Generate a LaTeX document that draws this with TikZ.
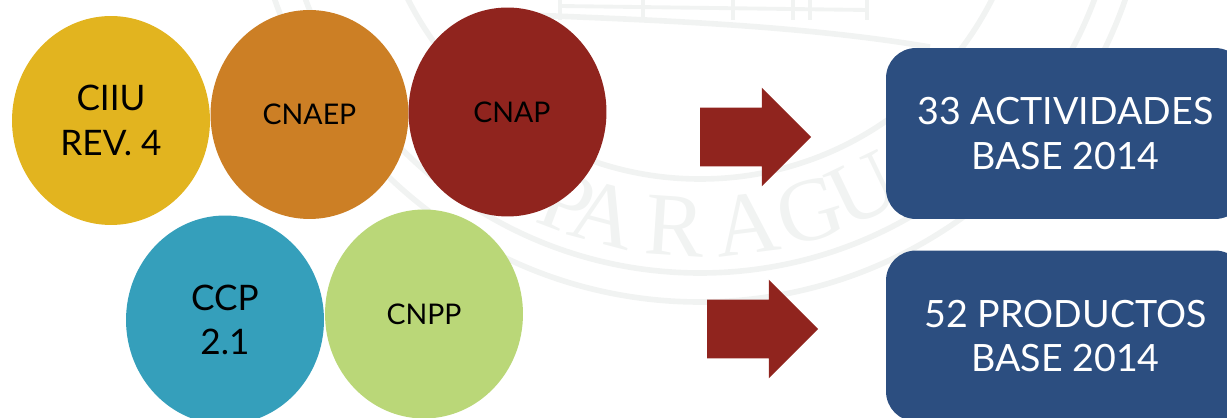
\documentclass[tikz,border=0pt]{standalone}
\usepackage{fontspec}
\setmainfont{Lato}
\usetikzlibrary{shapes.geometric,shapes.arrows}
\definecolor{seal}{HTML}{F1F3F2}
\definecolor{oro}{HTML}{E2B41F}
\definecolor{naranja}{HTML}{CC7F25}
\definecolor{vino}{HTML}{90241E}
\definecolor{cian}{HTML}{359FBB}
\definecolor{lima}{HTML}{BAD778}
\definecolor{marino}{HTML}{2C4E80}
\tikzset{
    bubble/.style={ellipse,minimum width=3.96cm,minimum height=4.18cm,inner sep=0pt,align=center,text=black},
    bigtext/.style={font=\fontsize{20}{25.5}\selectfont},
    smalltext/.style={font=\fontsize{16.2}{20}\selectfont},
    flecha/.style={single arrow,fill=vino,minimum height=2.22cm,single arrow head extend=0.4cm,inner xsep=0pt,inner ysep=0.58cm},
    caja/.style={rectangle,rounded corners=0.6cm,fill=marino,text=white,minimum width=7.18cm,minimum height=3.42cm,align=center,font=\fontsize{21.4}{25.5}\selectfont},
    sealline/.style={draw=seal,line width=3.2pt},
    sealthin/.style={draw=seal,line width=2.2pt},
    sealletter/.style={text=seal,font=\fontspec{Liberation Serif}\fontsize{51}{51}\selectfont,inner sep=0pt}
}
\begin{document}
\begin{tikzpicture}[x=0.02cm,y=-0.02cm]
            \useasboundingbox (0,0) rectangle (1227,418);

            \begin{scope}
                \draw[sealline] (700,-148) circle [radius=450];
                \draw[sealline] (700,-148) circle [radius=421];
                \draw[sealline] (700,-148) circle [radius=327];
                \draw[sealline] (530,15) .. controls (650,20) and (800,25) .. (930,47);
                \foreach \xpos in {560,643,733,793,810,867}
                    \draw[sealthin] (\xpos,0) -- (\xpos,20);
                \draw[sealthin] (560,6) -- (867,10);
                \foreach \letter/\ang [count=\i] in {P/-20.8,A/-14.8,R/-3.8,A/7.2,G/17,U/25.7}
                    \node (sello\i) [sealletter,rotate=\ang] at ({700+375*sin(\ang)},{-148+375*cos(\ang)}) {\letter};
            \end{scope}

            \begin{scope}[every node/.style={bubble}]
                \node (CIIU) [fill=oro,bigtext] at (111,120.5) {CIIU\\REV. 4};
                \node (CNAEP) [fill=naranja,smalltext] at (309.5,114.5) {CNAEP};
                \node (CNAP) [fill=vino,smalltext] at (507.5,112) {\hspace{0.18cm}CNAP};
                \node (CCP) [fill=cian,bigtext] at (225,320) {CCP\\2.1};
                \node (CNPP) [fill=lima,smalltext] at (424,314) {CNPP};
            \end{scope}

            \node (flechaA) [flecha] at (741,137) {};
            \node (flechaB) [flecha] at (748,329) {};

            \node (cajaA) [caja] at (1065.5,133.5) {33 ACTIVIDADES\\BASE 2014};
            \node (cajaB) [caja] at (1065.5,336) {52 PRODUCTOS\\BASE 2014};
        \end{tikzpicture}
\end{document}
